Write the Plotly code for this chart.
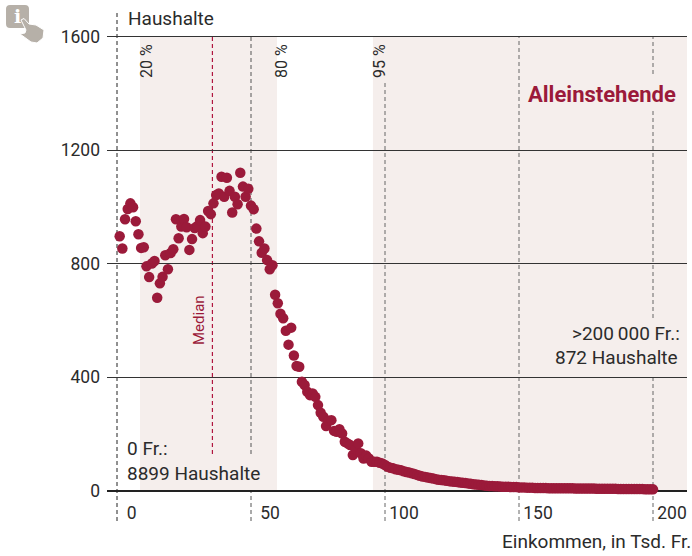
import plotly.graph_objects as go

W, H = 692, 556
L, R, T, B = 107, 687, 8, 500
FONT = "Roboto"
INK = "#2b2b2b"
RED = "#9b1a3a"
BAND = "#f5eeec"
ICON = "#b6b0a8"

income = list(range(1, 201))
households = [
    896, 853, 956, 992, 1012, 998, 949, 903, 855, 857,
    790, 752, 800, 809, 679, 730, 753, 829, 780, 837,
    850, 956, 889, 930, 957, 928, 848, 886, 925, 932,
    953, 907, 930, 985, 974, 1012, 1041, 1047, 1106, 1035,
    1102, 1056, 980, 1035, 1009, 1120, 1071, 1035, 1063, 1004,
    991, 923, 878, 838, 853, 812, 780, 794, 690, 660,
    623, 607, 563, 514, 574, 476, 439, 436, 383, 372,
    348, 336, 342, 330, 301, 274, 260, 227, 246, 248,
    210, 207, 216, 201, 172, 166, 160, 125, 145, 166,
    131, 113, 123, 113, 101, 101, 101, 98, 95, 90,
    84, 80, 78, 75, 73, 71, 68, 65, 63, 61,
    58, 55, 52, 49, 48, 46, 44, 42, 40, 38,
    37, 36, 34, 33, 32, 31, 30, 28, 27, 26,
    25, 24, 22, 21, 20, 19, 18, 17, 16, 16,
    15, 15, 14, 13, 13, 13, 12, 12, 12, 11,
    11, 11, 10, 10, 10, 9, 9, 9, 9, 9,
    8, 8, 8, 8, 8, 8, 8, 8, 8, 8,
    7, 7, 7, 7, 7, 7, 7, 7, 6, 6,
    6, 6, 6, 6, 6, 6, 5, 5, 5, 5,
    5, 5, 5, 5, 5, 5, 4, 4, 4, 4,
]
y_ticks = [0, 400, 800, 1200, 1600]
x_ticks = [0, 50, 100, 150, 200]
x_labels = ["0\u00a0\u00a0", "50", "100", "150", "200"]
bands = [(8.6, 59.7), (95.5, 212.7)]
median = 35.6


def xp(px):
    return (px - L) / (R - L)


def yp(py):
    return (B - py) / (B - T)


shapes = []
for a, b in bands:
    shapes.append(dict(type="rect", xref="x", yref="paper", x0=a, x1=b, y0=yp(490.5), y1=yp(36.5),
                       fillcolor=BAND, line_width=0, layer="below"))

dashes = [
    (0, 10, 521, "#222222", 1),
    (50, 36, 454, "#555555", 1),
    (50, 490, 521, "#555555", 1),
    (median, 36, 454, "#b0153f", 1.2),
    (100, 83, 521, "#666666", 1),
    (150, 36, 521, "#666666", 1),
    (200, 36, 74, "#666666", 1),
    (200, 110, 318, "#666666", 1),
    (200, 377, 521, "#666666", 1),
]
for x, top, bot, col, wid in dashes:
    shapes.append(dict(type="line", xref="x", yref="paper", x0=x, x1=x,
                       y0=yp(bot), y1=yp(top), layer="below",
                       line=dict(color=col, width=wid, dash="4px,3px")))


# info icon
def pt(a, b):
    return f"{xp(a):.4f},{yp(b):.4f}"


def poly(points):
    return "M" + "L".join(pt(a, b) for a, b in points) + "Z"


round_box = ("M" + pt(10, 5) + "L" + pt(25, 5) + "Q" + pt(29, 5) + " " + pt(29, 9) + "L" + pt(29, 24)
             + "Q" + pt(29, 28) + " " + pt(25, 28) + "L" + pt(10, 28) + "Q" + pt(6, 28) + " " + pt(6, 24)
             + "L" + pt(6, 9) + "Q" + pt(6, 5) + " " + pt(10, 5) + "Z")
shapes.append(dict(type="path", xref="paper", yref="paper", path=round_box,
                   fillcolor=ICON, line_width=0))
shapes.append(dict(type="path", xref="paper", yref="paper",
                   path=poly([(21, 20), (24, 18.5), (29, 24), (36, 25), (44, 30), (43, 38), (37, 43),
                              (31, 42), (20, 34), (25, 33), (26, 30)]),
                   fillcolor=ICON, line=dict(color="#ffffff", width=1)))


def note(px, py, text, anchor="left", size=19, color=INK, angle=0, bold=False):
    return dict(xref="paper", yref="paper", x=xp(px), y=yp(py), text=text, showarrow=False,
                xanchor=anchor, yanchor="middle", textangle=angle, borderpad=0, borderwidth=0,
                font=dict(family=FONT, size=size, color=color, weight=700 if bold else 400))


annotations = [
    note(128, 19, "Haushalte"),
    note(691, 541, "Einkommen, in Tsd. Fr.", "right"),
    note(147, 61, "20 %", "center", 16, angle=-90),
    note(282, 61, "80 %", "center", 16, angle=-90),
    note(380, 61, "95 %", "center", 16, angle=-90),
    note(199, 320, "Median", "center", 15, RED, -90),
    note(676, 94, "Alleinstehende", "right", 22, RED, bold=True),
    note(127, 448, "0 Fr.:"),
    note(127, 473, "8899 Haushalte"),
    note(680, 333, ">200\u2009000 Fr.:", "right"),
    note(678, 357, "872 Haushalte", "right"),
    dict(xref="paper", yref="paper", x=xp(17), y=yp(16), text="<b>i</b>", showarrow=False,
         xanchor="center", yanchor="middle", font=dict(family="DejaVu Serif", size=19, color="#ffffff")),
]

fig = go.Figure(go.Scatter(x=income, y=households, mode="markers", cliponaxis=False,
                           marker=dict(size=10.5, color=RED, line_width=0), hoverinfo="skip"))
fig.update_layout(
    width=W, height=H, showlegend=False, paper_bgcolor="white", plot_bgcolor="rgba(0,0,0,0)",
    margin=dict(l=L, r=W - R, t=T, b=H - B, pad=0),
    shapes=shapes, annotations=annotations,
    font=dict(family=FONT, size=17.5, color=INK),
    xaxis=dict(range=[(L - 117) / 2.68, (R - 117) / 2.68], tickvals=x_ticks, ticktext=x_labels,
               showgrid=False, zeroline=False, showline=False, ticks="", ticklabelshift=19,
               ticklabelstandoff=0),
    yaxis=dict(range=[(490.5 - B) / 0.28375, (490.5 - T) / 0.28375], tickvals=y_ticks,
               showgrid=True, gridcolor="#333333", gridwidth=1, zeroline=True, zerolinecolor="#222222",
               zerolinewidth=2, showline=False, ticks="", ticklabelstandoff=6),
)
fig.write_html("out.html", config=dict(displayModeBar=False),
               post_script="document.body.style.margin='0';document.documentElement.style.overflow='hidden';window.dispatchEvent(new Event('resize'));")
